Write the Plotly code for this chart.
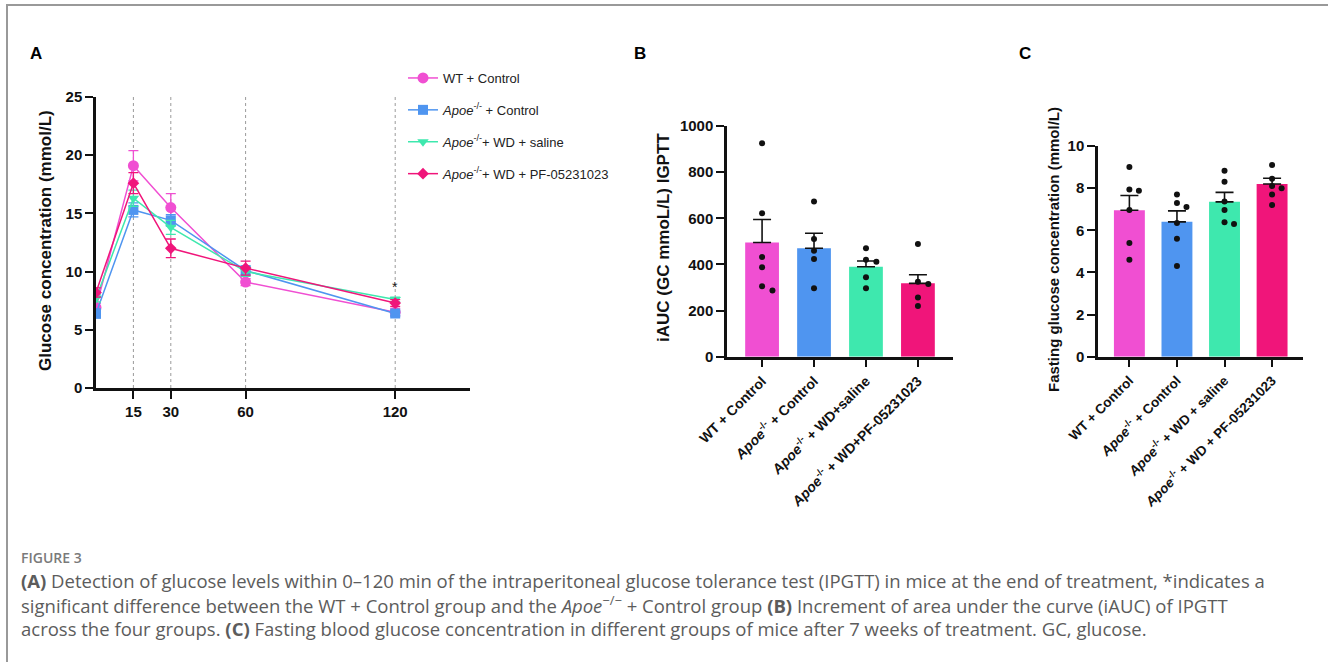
import plotly.graph_objects as go

# ---------------- data ----------------
times = [0, 15, 30, 60, 120]
time_ticks = [15, 30, 60, 120]

series_names = [
    "WT + Control",
    "<i>Apoe</i><sup>-/-</sup> + Control",
    "<i>Apoe</i><sup>-/-</sup>+ WD + saline",
    "<i>Apoe</i><sup>-/-</sup>+ WD + PF-05231023",
]
gtt_wt = [6.9, 19.1, 15.5, 9.1, 6.5]
gtt_apoe = [6.4, 15.3, 14.4, 10.1, 6.4]
gtt_saline = [7.7, 16.3, 13.8, 10.0, 7.6]
gtt_pf = [8.2, 17.6, 12.0, 10.3, 7.3]
gtt_wt_err = [0.4, 1.3, 1.2, 0.3, 0.3]
gtt_apoe_err = [0.4, 0.6, 0.5, 0.4, 0.2]
gtt_saline_err = [0.3, 0.7, 0.6, 0.4, 0.2]
gtt_pf_err = [0.4, 0.9, 0.8, 0.6, 0.3]

groups_b = [
    "WT + Control",
    "<i>Apoe</i><sup>-/-</sup> + Control",
    "<i>Apoe</i><sup>-/-</sup> + WD+saline",
    "<i>Apoe</i><sup>-/-</sup> + WD+PF-05231023",
]
iauc_mean = [495, 470, 390, 318]
iauc_sem = [100, 65, 25, 37]
iauc_points = [
    [925, 622, 432, 388, 305, 287],
    [673, 510, 459, 423, 297],
    [470, 420, 412, 344, 297],
    [488, 325, 315, 257, 220],
]

groups_c = [
    "WT + Control",
    "<i>Apoe</i><sup>-/-</sup> + Control",
    "<i>Apoe</i><sup>-/-</sup> + WD + saline",
    "<i>Apoe</i><sup>-/-</sup> + WD + PF-05231023",
]
fasting_mean = [6.95, 6.4, 7.35, 8.2]
fasting_sem = [0.7, 0.52, 0.45, 0.27]
fasting_points = [
    [9.0, 7.94, 7.88, 6.96, 5.4, 4.6],
    [7.7, 7.3, 7.1, 6.35, 5.6, 4.3],
    [8.83, 8.3, 7.36, 6.96, 6.38, 6.3],
    [9.1, 8.45, 8.1, 8.0, 7.7, 7.2],
]

colors = ["#F04FD2", "#4F95F0", "#3EE8AE", "#F0157A"]
symbols = ["circle", "square", "triangle-down", "diamond"]
msizes = [11, 10, 10, 9]

FONT = "Arial, Liberation Sans, sans-serif"

fig = go.Figure()

# ---------------- Panel A ----------------
gtt_vals = [gtt_wt, gtt_apoe, gtt_saline, gtt_pf]
gtt_errs = [gtt_wt_err, gtt_apoe_err, gtt_saline_err, gtt_pf_err]
for i in range(4):
    fig.add_trace(go.Scatter(
        x=times, y=gtt_vals[i], mode="lines+markers", name=series_names[i],
        legendgroup="g%d" % i,
        line=dict(color=colors[i], width=1.5),
        marker=dict(symbol=symbols[i], size=msizes[i], color=colors[i]),
        error_y=dict(type="data", array=gtt_errs[i], symmetric=True,
                     color=colors[i], thickness=1.3, width=5),
        xaxis="x", yaxis="y",
    ))

for t in time_ticks:
    fig.add_shape(type="line", xref="x", yref="y", x0=t, x1=t, y0=0, y1=25,
                  line=dict(color="#9a9a9a", width=1, dash="dot"), layer="below")

fig.add_annotation(x=120, y=gtt_saline[-1] + 1.1, xref="x", yref="y", text="*",
                   showarrow=False, xanchor="center", yanchor="middle",
                   font=dict(family=FONT, size=14, color="#222"))


def jitter(vals, span):
    xs = []
    placed = []
    for v in vals:
        off = 0.0
        for (pv, po) in placed:
            if abs(pv - v) < span and abs(po - off) < 0.2:
                off = 0.2 if off <= 0 else -0.2
        placed.append((v, off))
        xs.append(off)
    return xs


def bar_panel(xa, ya, means, sems, points, span):
    for i in range(4):
        fig.add_trace(go.Bar(
            x=[i], y=[means[i]], width=0.65, marker=dict(color=colors[i], line=dict(width=0)),
            error_y=dict(type="data", array=[sems[i]], arrayminus=[0], symmetric=False,
                         color="#111", thickness=1.6, width=9),
            showlegend=False, xaxis=xa, yaxis=ya,
        ))
    for i in range(4):
        offs = jitter(points[i], span)
        fig.add_trace(go.Scatter(
            x=[i + o for o in offs], y=points[i], mode="markers",
            marker=dict(color="#111", size=6), showlegend=False, xaxis=xa, yaxis=ya,
        ))


bar_panel("x2", "y2", iauc_mean, iauc_sem, iauc_points, 30)
bar_panel("x3", "y3", fasting_mean, fasting_sem, fasting_points, 0.3)

axis_common = dict(showline=True, linecolor="#111", linewidth=2.5, ticks="outside",
                   ticklen=8, tickwidth=2, tickcolor="#111", showgrid=False, zeroline=False,
                   automargin=False,
                   tickfont=dict(family=FONT, size=15, color="#111", weight="bold"))

W, H = 1328, 662


def px(x):
    return x / W


def py(y):
    return 1 - y / H


fig.update_layout(
    template="none",
    autosize=False,
    width=W, height=H, margin=dict(l=0, r=0, t=0, b=0, pad=0, autoexpand=False),
    paper_bgcolor="white", plot_bgcolor="white",
    showlegend=True,
    barmode="overlay",
    legend=dict(x=px(403), y=py(63), xanchor="left", yanchor="top",
                font=dict(family=FONT, size=13, color="#222"),
                tracegroupgap=12, bgcolor="rgba(0,0,0,0)", itemwidth=30),
    xaxis=dict(domain=[px(96), px(470)], range=[0, 150], tickvals=time_ticks,
               anchor="y", **axis_common),
    yaxis=dict(domain=[py(388), py(97)], range=[0, 25], tickvals=[0, 5, 10, 15, 20, 25],
               anchor="x", **axis_common),
    xaxis2=dict(domain=[px(727), px(953)], range=[-0.675, 3.675], tickvals=[0, 1, 2, 3],
                ticktext=groups_b, tickangle=-45, anchor="y2",
                **{**axis_common, "tickfont": dict(family=FONT, size=14, color="#111", weight="bold")}),
    yaxis2=dict(domain=[py(356.7), py(126)], range=[0, 1000],
                tickvals=[0, 200, 400, 600, 800, 1000], anchor="x2", **axis_common),
    xaxis3=dict(domain=[px(1098), px(1303)], range=[-0.66, 3.65], tickvals=[0, 1, 2, 3],
                ticktext=groups_c, tickangle=-45, anchor="y3",
                **{**axis_common, "tickfont": dict(family=FONT, size=13.5, color="#111", weight="bold")}),
    yaxis3=dict(domain=[py(356.7), py(146)], range=[0, 10],
                tickvals=[0, 2, 4, 6, 8, 10], anchor="x3", **axis_common),
)


def note(x, y, text, size, color="#111", angle=0, xanchor="center", family=FONT, weight=None):
    f = dict(family=family, size=size, color=color)
    if weight is not None:
        f["weight"] = weight
    fig.add_annotation(x=px(x), y=py(y), xref="paper", yref="paper", text=text,
                       textangle=angle, showarrow=False, xanchor=xanchor, yanchor="middle",
                       font=f)


# axis titles
note(45, 241, "<b>Glucose concentration (mmol/L)</b>", 17, angle=-90)
note(663, 238, "<b>iAUC (GC mmoL/L) IGPTT</b>", 17, angle=-90)
note(1053, 250, "<b>Fasting glucose concentration (mmol/L)</b>", 15, angle=-90)

# panel letters
for lab, xx in [("A", 36), ("B", 640), ("C", 1025)]:
    note(xx, 53, "<b>%s</b>" % lab, 17, color="#000")

# caption
CAP = "Open Sans, Lato, sans-serif"
note(19, 557, "FIGURE 3", 14, color="#7a7a7a", xanchor="left", family=CAP, weight=600)
cap_lines = [
    "<b>(A)</b> Detection of glucose levels within 0–120 min of the intraperitoneal glucose tolerance test (IPGTT) in mice at the end of treatment, *indicates a",
    "significant difference between the WT + Control group and the <i>Apoe</i><sup>−/−</sup> + Control group <b>(B)</b> Increment of area under the curve (iAUC) of IPGTT",
    "across the four groups. <b>(C)</b> Fasting blood glucose concentration in different groups of mice after 7 weeks of treatment. GC, glucose.",
]
for k, line in enumerate(cap_lines):
    note(19, 580 + 24 * k, line, 18.5, color="#5c5c5c", xanchor="left", family=CAP)

# frame (top + left)
fig.add_shape(type="line", xref="paper", yref="paper", x0=px(6), x1=1, y0=py(5), y1=py(5),
              line=dict(color="#999", width=2))
fig.add_shape(type="line", xref="paper", yref="paper", x0=px(7), x1=px(7), y0=py(5), y1=0,
              line=dict(color="#999", width=2))

fig.write_html("out.html", config={"displayModeBar": False},
               post_script="document.body.style.margin='0';document.body.style.padding='0';")
